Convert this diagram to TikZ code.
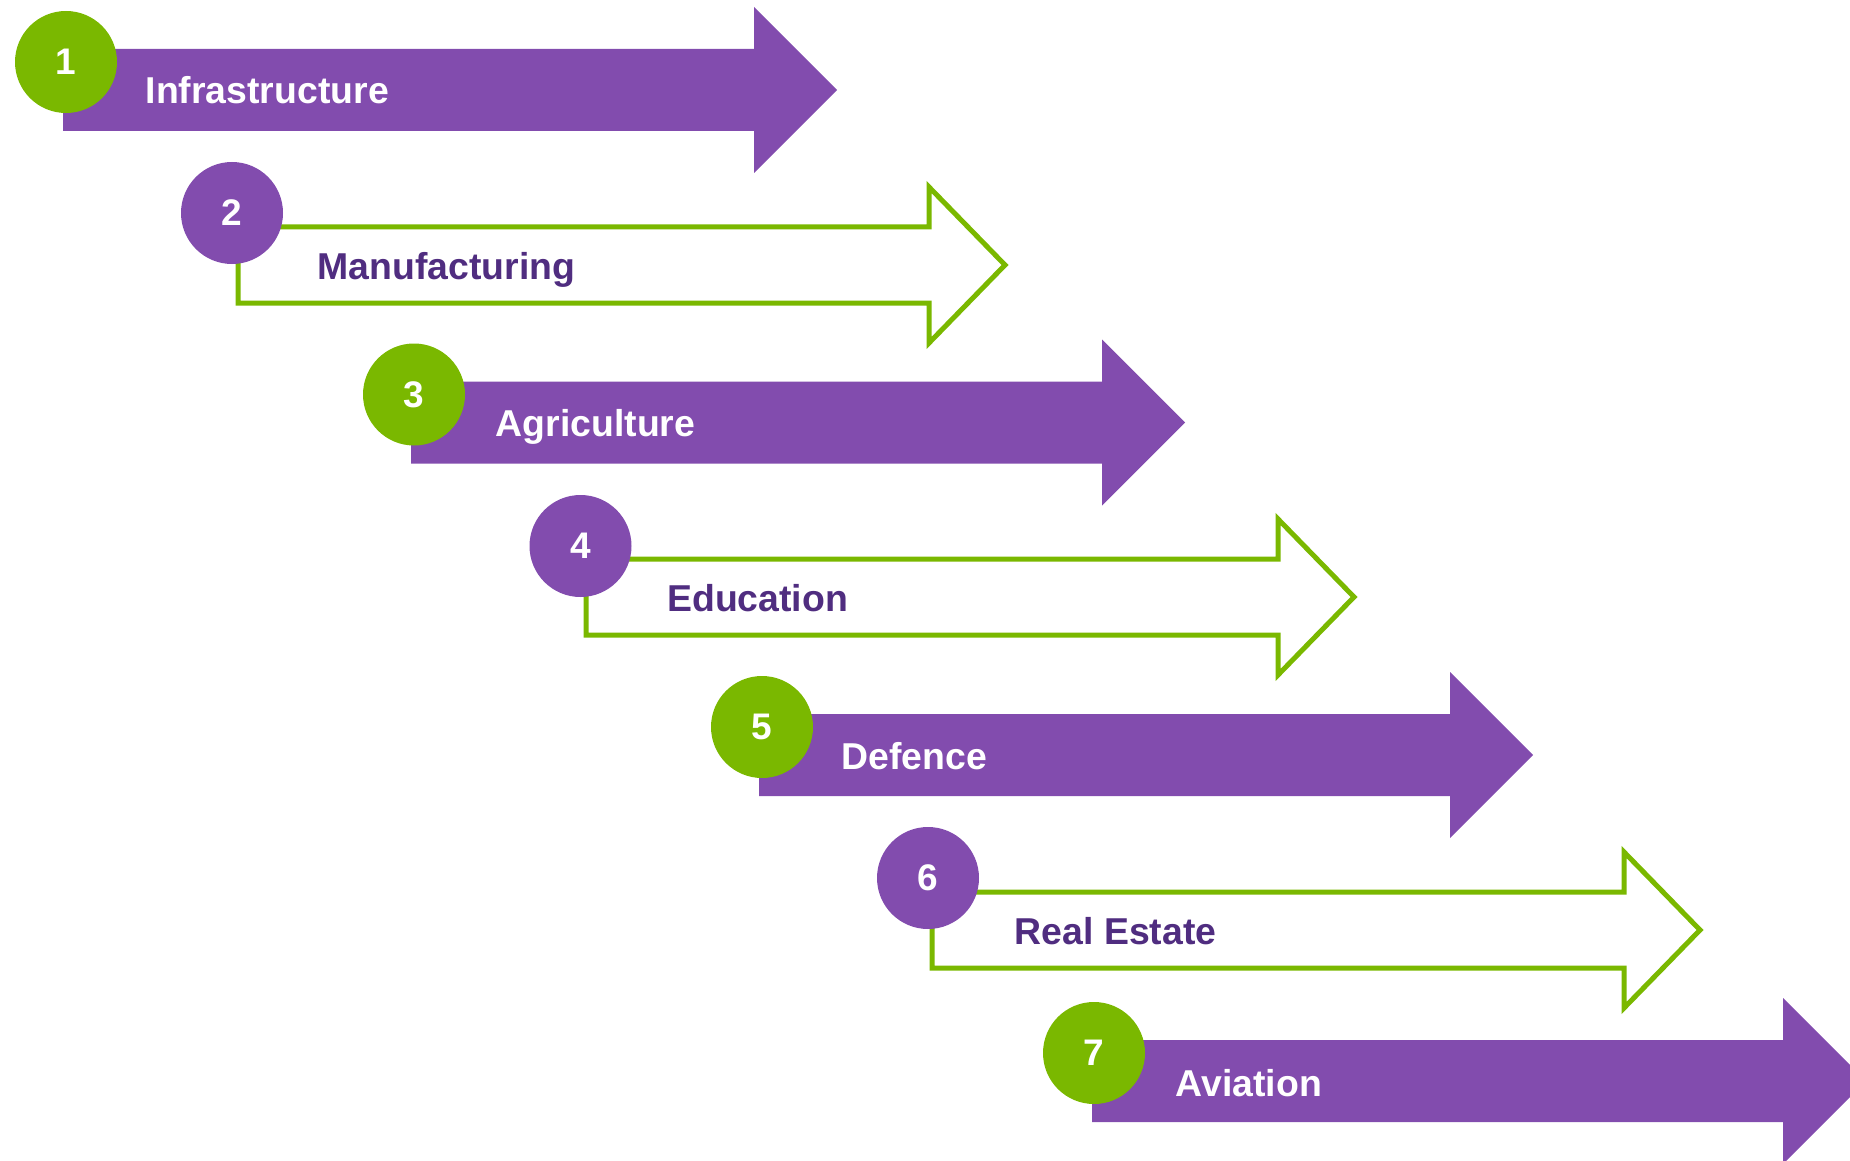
\documentclass[tikz,border=0pt]{standalone}
\usepackage{fontspec}
\setmainfont{Liberation Sans}
\definecolor{arrpurple}{RGB}{130,76,174}
\definecolor{arrgreen}{RGB}{122,184,0}
\definecolor{txtpurple}{RGB}{80,45,128}
\tikzset{
  solidarrow/.style={fill=arrpurple, draw=none},
  hollowarrow/.style={draw=arrgreen, line width=5pt, fill=white, miter limit=10},
  numdisc/.style={circle, minimum size=102pt, inner sep=0pt, text=white,
    font=\fontsize{37}{40}\selectfont\bfseries},
  greendisc/.style={numdisc, fill=arrgreen},
  purpledisc/.style={numdisc, fill=arrpurple},
  lightlabel/.style={anchor=base west, inner sep=0pt, text=white,
    font=\fontsize{37.4}{40}\selectfont\bfseries},
  darklabel/.style={lightlabel, text=txtpurple}
}
\begin{document}
\begin{tikzpicture}[x=1pt, y=-1pt]
\useasboundingbox (0,0) rectangle (1850,1161);
\clip (0,0) rectangle (1850,1161);
% 1
\draw[solidarrow] (63,49) -- (754,49) -- (754,7) -- (837,90) -- (754,173) -- (754,131) -- (63,131) -- cycle;
\node[greendisc] (c1) at (66,62) {1};
\node[lightlabel] (t1) at (145.5,104) {Infrastructure};
% 2
\draw[hollowarrow] (238,227) -- (929,227) -- (929,187) -- (1005,265) -- (929,343) -- (929,303) -- (238,303) -- cycle;
\node[purpledisc] (c2) at (232,213) {2};
\node[darklabel] (t2) at (317.5,279) {Manufacturing};
% 3
\draw[solidarrow] (411,381.5) -- (1102,381.5) -- (1102,339.5) -- (1185,422.5) -- (1102,505.5) -- (1102,463.5) -- (411,463.5) -- cycle;
\node[greendisc] (c3) at (414,394.5) {3};
\node[lightlabel] (t3) at (495.5,436.7) {Agriculture};
% 4
\draw[hollowarrow] (586,559) -- (1278,559) -- (1278,519) -- (1354,597) -- (1278,675) -- (1278,635) -- (586,635) -- cycle;
\node[purpledisc] (c4) at (580.5,546) {4};
\node[darklabel] (t4) at (667,611.7) {Education};
% 5
\draw[solidarrow] (759,714) -- (1450,714) -- (1450,672) -- (1533,755) -- (1450,838) -- (1450,796) -- (759,796) -- cycle;
\node[greendisc] (c5) at (762,727) {5};
\node[lightlabel] (t5) at (841.5,769) {Defence};
% 6
\draw[hollowarrow] (932,892) -- (1624,892) -- (1624,852) -- (1700,930) -- (1624,1008) -- (1624,968) -- (932,968) -- cycle;
\node[purpledisc] (c6) at (928,878) {6};
\node[darklabel] (t6) at (1014.5,944) {Real Estate};
% 7
\draw[solidarrow] (1092,1040) -- (1783,1040) -- (1783,998) -- (1866,1081) -- (1783,1164) -- (1783,1122) -- (1092,1122) -- cycle;
\node[greendisc] (c7) at (1094,1053) {7};
\node[lightlabel] (t7) at (1175.5,1096) {Aviation};
\end{tikzpicture}
\end{document}
